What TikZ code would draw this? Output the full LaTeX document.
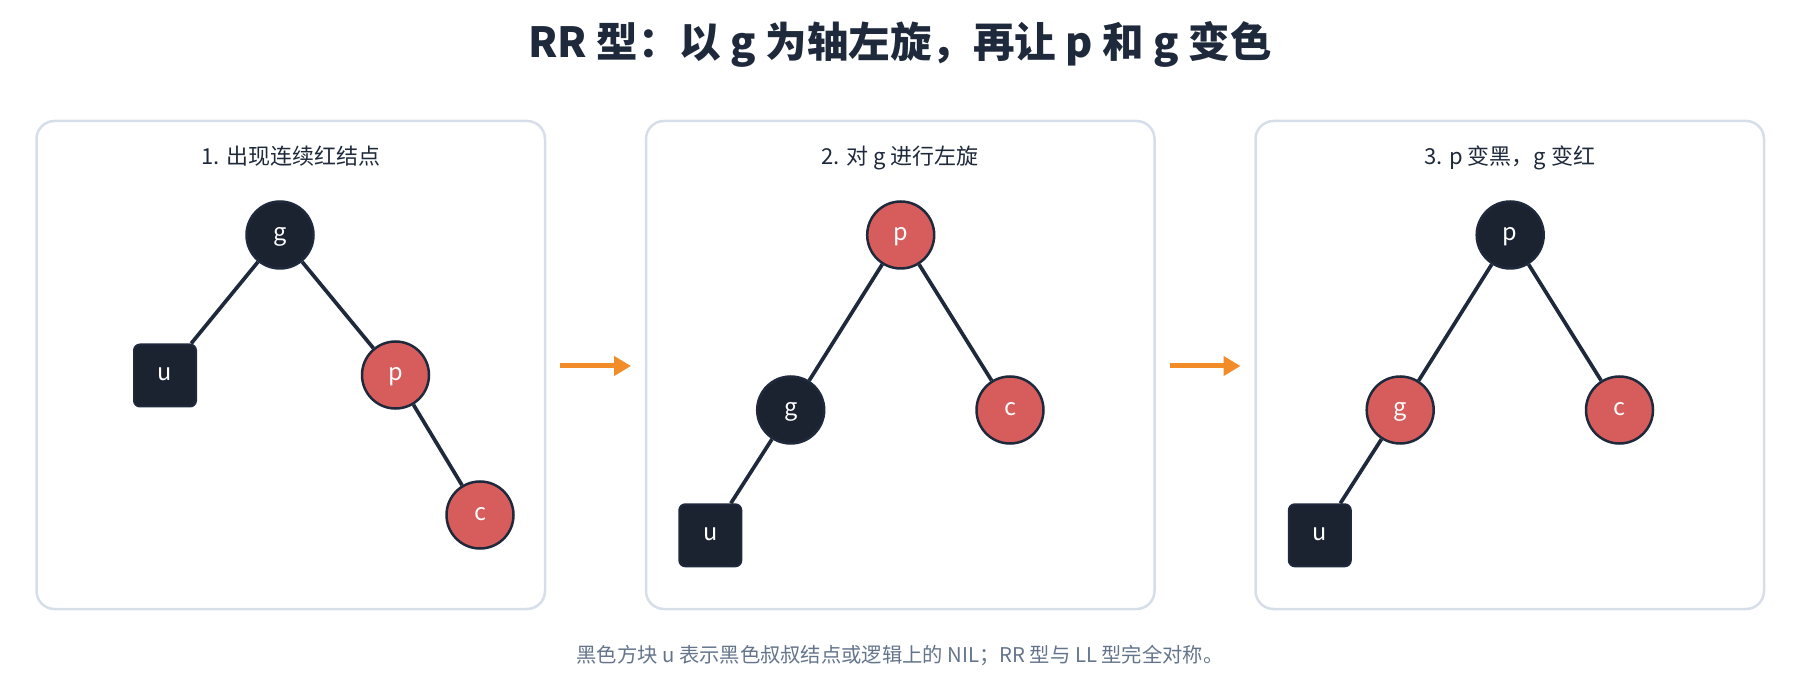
\documentclass[tikz,border=0pt]{standalone}
\usepackage{fontspec}
\setmainfont{Noto Sans CJK SC}
\usetikzlibrary{arrows.meta}
\definecolor{ink}{HTML}{1E293B}
\definecolor{dark}{HTML}{1B2230}
\definecolor{hot}{HTML}{D75C5C}
\definecolor{frame}{HTML}{D6DEE9}
\definecolor{flow}{HTML}{F28C28}
\definecolor{note}{HTML}{64748B}

\begin{document}
\begin{tikzpicture}[x=1pt,y=-1pt]
\tikzstyle{panel}=[draw=frame,line width=2.5pt,rounded corners=18pt];
\tikzstyle{head}=[anchor=base,text=ink,font=\fontsize{22}{26}\selectfont];
\tikzstyle{bk}=[circle,draw=ink,fill=dark,line width=2.5pt,minimum size=67pt,inner sep=0pt,text=white,text height=13pt,text depth=2.4pt,font=\fontsize{23.5}{27}\selectfont];
\tikzstyle{rd}=[bk,fill=hot];
\tikzstyle{nil}=[bk,rectangle,rounded corners=6pt,line width=2pt,minimum size=62pt];
\tikzstyle{link}=[draw=ink,line width=3.7pt];
\tikzstyle{move}=[draw=flow,line width=5pt,-{Triangle[length=17pt,width=19pt]}];
\useasboundingbox (0,0) rectangle (1800,700);

\node [anchor=base,text=ink,font=\fontsize{41.5}{48}\selectfont\bfseries] (title) at (900,58) {RR 型：以 g 为轴左旋，再让 p 和 g 变色};

% panels
\draw [panel] (36.5,121) rectangle (545,609);
\draw [panel] (646,121) rectangle (1154.5,609);
\draw [panel] (1255.5,121) rectangle (1764,609);
\node [head] (h1) at (290.8,165) {1. 出现连续红结点};
\node [head] (h2) at (900.3,165) {2. 对 g 进行左旋};
\node [head] (h3) at (1509.8,165) {3. p 变黑，g 变红};

% before
\node [bk] (v1) at (280,235) {g};
\node [nil] (v2) at (165,375.5) {u};
\node [rd] (v3) at (395.5,375) {p};
\node [rd] (v4) at (480,515) {c};
\draw [link] (v1) -- (v2);
\draw [link] (v1) -- (v3);
\draw [link] (v3) -- (v4);

% rotated
\node [rd] (v5) at (900.7,235) {p};
\node [bk] (v6) at (790.7,410) {g};
\node [rd] (v7) at (1010,410) {c};
\node [nil] (v8) at (710.3,535.3) {u};
\draw [link] (v5) -- (v6);
\draw [link] (v5) -- (v7);
\draw [link] (v6) -- (v8);

% recoloured
\node [bk] (v9) at (1510.2,235) {p};
\node [rd] (v10) at (1400.2,410) {g};
\node [rd] (v11) at (1619.5,410) {c};
\node [nil] (v12) at (1319.8,535.3) {u};
\draw [link] (v9) -- (v10);
\draw [link] (v9) -- (v11);
\draw [link] (v10) -- (v12);

\coordinate (a1) at (560,366);
\coordinate (a2) at (631,366);
\coordinate (a3) at (1169.5,366);
\coordinate (a4) at (1240.5,366);
\draw [move] (a1) -- (a2);
\draw [move] (a3) -- (a4);

\node [anchor=base,text=note,font=\fontsize{20.3}{24}\selectfont] (foot) at (900,662) {黑色方块 u 表示黑色叔叔结点或逻辑上的 NIL；RR 型与 LL 型完全对称。};
\end{tikzpicture}
\end{document}
